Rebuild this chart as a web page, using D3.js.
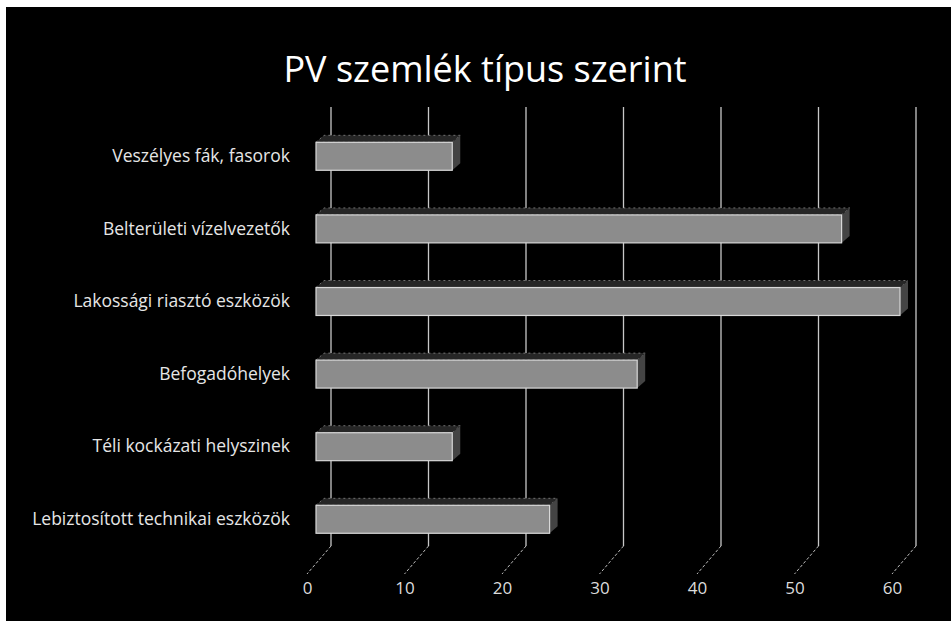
<!DOCTYPE html>
<html>
<head>
<meta charset="utf-8">
<script src="https://cdn.jsdelivr.net/npm/d3@7"></script>
<style>
  body { margin: 0; background: #fff; }
  text { font-family: "Open Sans", sans-serif; }
</style>
</head>
<body>
<div id="chart"></div>
<script>
const categories = [
    "Veszélyes fák, fasorok",
    "Belterületi vízelvezetők",
    "Lakossági riasztó eszközök",
    "Befogadóhelyek",
    "Téli kockázati helyszinek",
    "Lebiztosított technikai eszközök"
]
const values = [14, 54, 60, 33, 14, 24]
const tickValues = [0, 10, 20, 30, 40, 50, 60]
const title = "PV szemlék típus szerint"

let width = 951
let height = 621

let svg = d3.select("#chart")
            .append("svg")
                .attr("width", width)
                .attr("height", height)

// black chart area with a thin white margin on the top/left (scan)
svg.append("rect")
    .attr("x", 6)
    .attr("y", 7)
    .attr("width", width - 6)
    .attr("height", height - 7)
    .attr("fill", "#000")

// three planes of the 3D chart: back wall, bar face, floor front
let xBack = d3.scaleLinear().domain([0, 60]).range([331, 916])
let xBar = d3.scaleLinear().domain([0, 60]).range([316, 900])
let xFront = d3.scaleLinear().domain([0, 60]).range([307, 892])

let y = d3.scaleBand()
    .domain(categories)
    .range([120, 555.6])
    .paddingInner(0.615)
    .paddingOuter(0.3075)

const wallTop = 107
const wallBottom = 546
const floorFront = 574

// back wall gridlines
svg.selectAll("line.grid")
    .data(tickValues)
    .enter()
    .append("line")
        .attr("class", "grid")
        .attr("x1", d => xBack(d))
        .attr("x2", d => xBack(d))
        .attr("y1", wallTop)
        .attr("y2", wallBottom)
        .style("stroke", "#c8c8c8")
        .style("stroke-width", 1.3)

// floor diagonals
svg.selectAll("line.floor")
    .data(tickValues)
    .enter()
    .append("line")
        .attr("class", "floor")
        .attr("x1", d => xBack(d))
        .attr("x2", d => xFront(d))
        .attr("y1", wallBottom)
        .attr("y2", floorFront)
        .style("stroke", "#bdbdbd")
        .style("stroke-width", 1)
        .style("stroke-dasharray", "3,2")

// bars: top face, side face, front face
let bars = svg.selectAll("g.bar")
    .data(categories)
    .enter()
    .append("g")
        .attr("class", "bar")

bars.append("path")
    .attr("d", (d, i) => {
        let x0 = xBar(0), x1 = xBar(values[i]), t = y(d)
        return `M${x0},${t} L${x0 + 8},${t - 7} L${x1 + 8},${t - 7} L${x1},${t} Z`
    })
    .style("fill", "#262626")
    .style("stroke", "#8a8a8a")
    .style("stroke-width", 0.8)
    .style("stroke-dasharray", "2,3")

bars.append("path")
    .attr("d", (d, i) => {
        let x1 = xBar(values[i]), t = y(d), b = t + y.bandwidth()
        return `M${x1},${t} L${x1 + 8},${t - 7} L${x1 + 8},${b - 7} L${x1},${b} Z`
    })
    .style("fill", "#444")

bars.append("rect")
    .attr("x", xBar(0))
    .attr("y", d => y(d))
    .attr("width", (d, i) => xBar(values[i]) - xBar(0))
    .attr("height", y.bandwidth())
    .style("fill", "#8c8c8c")
    .style("stroke", "#d8d8d8")
    .style("stroke-width", 1.2)

// category labels
let yAxis = svg.append("g")
    .attr("transform", "translate(299, 0)")
    .call(d3.axisLeft(y).tickSize(0).tickPadding(9))
yAxis.select(".domain").remove()
yAxis.selectAll("text")
    .attr("font-size", "17.5px")
    .attr("fill", "#e6e6e6")
    .style("font-family", "'Open Sans', sans-serif")

// value labels
let xAxis = svg.append("g")
    .attr("transform", `translate(0, ${floorFront})`)
    .call(d3.axisBottom(xFront).tickValues(tickValues).tickSize(0).tickPadding(8))
xAxis.select(".domain").remove()
xAxis.selectAll("text")
    .attr("font-size", "17px")
    .attr("fill", "#dcdcdc")
    .style("font-family", "'Open Sans', sans-serif")

svg.append("text")
    .attr("x", 485)
    .attr("y", 82)
    .attr("text-anchor", "middle")
    .attr("font-size", "36px")
    .attr("font-weight", 400)
    .attr("fill", "#fff")
    .text(title)
</script>
</body>
</html>
